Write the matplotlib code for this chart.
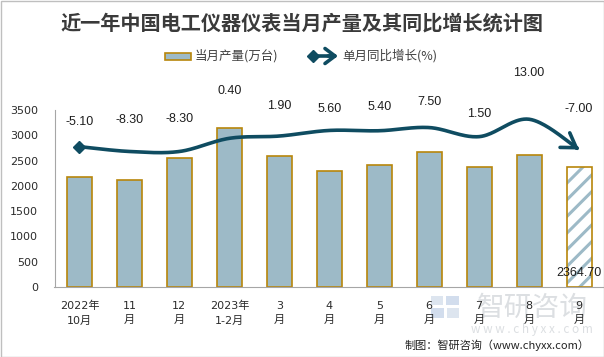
import numpy as np
import matplotlib.pyplot as plt
from matplotlib.patches import Rectangle

plt.rcParams['font.family'] = ['DejaVu Sans', 'Noto Sans CJK SC']
plt.rcParams['hatch.linewidth'] = 2.2

# data
months = ['2022年\n10月', '11\n月', '12\n月', '2023年\n1-2月', '3\n月', '4\n月',
          '5\n月', '6\n月', '7\n月', '8\n月', '9\n月']
output = [2169, 2116, 2545, 3138, 2584, 2294, 2406, 2669, 2367, 2604, 2364.70]
growth = [-5.10, -8.30, -8.30, 0.40, 1.90, 5.60, 5.40, 7.50, 1.50, 13.00, -7.00]

# how far (px) each growth label sits above its point, as in the reference
label_lift = [25, 31, 32, 47, 30, 21, 24, 26, 23, 46, 41]

bar_color = '#9dbac7'
edge_color = '#b8860b'
line_color = '#0f4c61'
text_color = '#1e1e1e'
label_font = ['Liberation Sans', 'Noto Sans CJK SC']
cjk = ['Noto Sans CJK SC', 'DejaVu Sans']


def smooth(xs, ys, n=40):
    # catmull-rom through the points, same idea as excel's smoothed line
    p = np.column_stack([xs, ys]).astype(float)
    p = np.vstack([p[0], p, p[-1]])
    t = np.linspace(0, 1, n)[:, None]
    out = []
    for i in range(1, len(p) - 2):
        p0, p1, p2, p3 = p[i - 1], p[i], p[i + 1], p[i + 2]
        seg = 0.5 * (2 * p1 + (-p0 + p2) * t + (2 * p0 - 5 * p1 + 4 * p2 - p3) * t ** 2
                     + (-p0 + 3 * p1 - 3 * p2 + p3) * t ** 3)
        out.append(seg if i == 1 else seg[1:])
    s = np.vstack(out)
    return s[:, 0], s[:, 1]


W, H = 604, 357
fig = plt.figure(figsize=(W / 100, H / 100), dpi=100)

# overlay in pixel units for title, legend, watermark and frame
over = fig.add_axes([0, 0, 1, 1], zorder=0)
over.set_xlim(0, W)
over.set_ylim(H, 0)
over.axis('off')

ax = fig.add_axes([54.5 / W, 1 - 287 / H, 549.5 / W, 177 / H], zorder=1)
ax.patch.set_visible(False)
x = np.arange(len(months))

ax.bar(x[:-1], output[:-1], width=0.5, color=bar_color, edgecolor=edge_color, linewidth=1.2)
ax.bar(x[-1], output[-1], width=0.5, color='white', edgecolor=bar_color, hatch='//', linewidth=0)
ax.bar(x[-1], output[-1], width=0.5, color='none', edgecolor=edge_color, linewidth=1.2)

ax.set_xlim(-0.5, len(months) - 0.5)
ax.set_ylim(0, 3500)
ax.set_yticks(range(0, 3501, 500))
ax.set_xticks(x)
ax.set_xticklabels(months, linespacing=1.55)
ax.tick_params(axis='both', length=0, labelsize=8, colors='#2b2b2b')
ax.tick_params(axis='y', pad=12)
ax.tick_params(axis='x', pad=10)
for s in ['top', 'right']:
    ax.spines[s].set_visible(False)
for s in ['left', 'bottom']:
    ax.spines[s].set_color('#a6a6a6')

ax.annotate('%.2f' % output[-1], (x[-1], 0), xytext=(0, 14), textcoords='offset pixels',
            ha='center', va='center', fontsize=9, color=text_color, family=label_font)

ax2 = ax.twinx()
ax2.set_zorder(2)
ax2.set_ylim(-97.8, 19.1)
ax2.axis('off')

sx, sy = smooth(x, growth)
ax2.plot(sx[:-3], sy[:-3], color=line_color, lw=2.6, solid_capstyle='round')
ax2.plot(x[0], growth[0], marker='D', ms=6.5, color=line_color)
ax2.annotate('', xy=(sx[-1], sy[-1]), xytext=(sx[-4], sy[-4]),
             arrowprops=dict(arrowstyle='->,head_length=0.7,head_width=0.45', lw=2.6,
                             color=line_color, shrinkA=0, shrinkB=0, mutation_scale=14))

for xi, g, lift in zip(x, growth, label_lift):
    ax2.annotate('%.2f' % g, (xi, g), xytext=(0, lift), textcoords='offset pixels',
                 ha='center', va='center', fontsize=9, color=text_color, family=label_font)

# title
over.text(W / 2, 23, '近一年中国电工仪器仪表当月产量及其同比增长统计图', ha='center', va='center',
          fontsize=14.5, fontweight='bold', color='#3a3a3a', family=cjk)

# legend
over.add_patch(Rectangle((165, 52.5), 26, 7, facecolor=bar_color, edgecolor=edge_color, lw=1.2))
over.text(195, 56, '当月产量(万台)', ha='left', va='center', fontsize=9, color='#404040', family=cjk)
over.plot([313, 334], [56, 56], color=line_color, lw=2.6)
over.plot(313, 56, marker='D', ms=6, color=line_color)
over.annotate('', xy=(338, 56), xytext=(328, 56),
              arrowprops=dict(arrowstyle='->,head_length=0.6,head_width=0.45', lw=2.6,
                              color=line_color, shrinkA=0, shrinkB=0, mutation_scale=12))
over.text(342, 56, '单月同比增长(%)', ha='left', va='center', fontsize=9, color='#404040', family=cjk)

# watermark
over.add_patch(Rectangle((431, 296), 12, 9, facecolor='#dde5ef', lw=0))
over.add_patch(Rectangle((446, 296), 13, 9, facecolor='#d2dded', lw=0))
over.add_patch(Rectangle((431, 308), 13, 10, facecolor='#d2dded', lw=0))
over.add_patch(Rectangle((447, 308), 12, 10, facecolor='#dde5ef', lw=0))
over.text(532, 308, '智研咨询', ha='center', va='center', fontsize=20, color='#dcdfe2', family=cjk)
over.text(532, 330, 'w w w . c h y x x . c o m', ha='center', va='center', fontsize=8.5,
          color='#dcdfe2', family=cjk)

# source
over.text(590, 345, '制图：智研咨询（www.chyxx.com）', ha='right', va='center', fontsize=8,
          color='#222222', family=cjk)

over.add_patch(Rectangle((0.5, 0.5), W - 1, H - 1, facecolor='none', edgecolor='#bfbfbf', lw=1))

fig.savefig('out.png', dpi=100)
